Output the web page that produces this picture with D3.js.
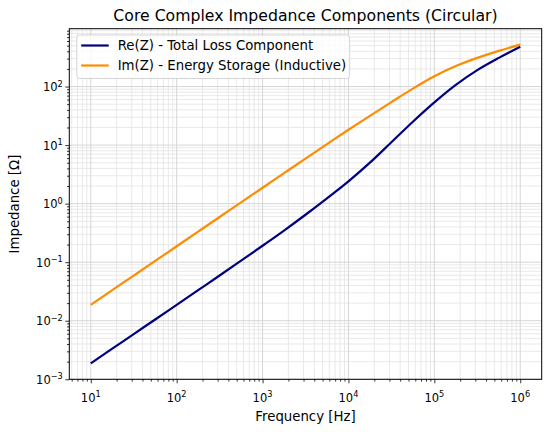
<!DOCTYPE html>
<html>
<head>
<meta charset="utf-8">
<script src="https://cdn.jsdelivr.net/npm/d3@7"></script>
<style>
  body { margin: 0; background: #fff; }
  svg { font-family: "DejaVu Sans", sans-serif; }
</style>
</head>
<body>
<svg id="chart"></svg>
<script>
const freqs = [10, 17.78, 31.62, 56.23, 100, 177.8, 316.2, 562.3, 1000, 1778, 3162, 5623, 10000, 17780, 31620, 56230, 100000, 177800, 316200, 562300, 1000000];
const reZ = [0.00187, 0.00333, 0.00592, 0.0105, 0.0187, 0.0333, 0.0592, 0.106, 0.191, 0.347, 0.646, 1.23, 2.40, 5.01, 11.2, 25.1, 53.7, 107, 191, 309, 480];
const imZ = [0.0187, 0.0333, 0.0591, 0.105, 0.187, 0.333, 0.592, 1.05, 1.87, 3.32, 5.89, 10.4, 18.3, 31.6, 54.3, 92.3, 150, 224, 309, 407, 520];
const seriesNames = ["Re(Z) - Total Loss Component", "Im(Z) - Energy Storage (Inductive)"];
const seriesColors = ["#000080", "#ff8c00"];
const xTickExps = [1, 2, 3, 4, 5, 6];
const yTickExps = [-3, -2, -1, 0, 1, 2];

const drawChart = (selector) => {
  const width = 549;
  const height = 432;
  const margin = { top: 28.7, right: 7.3, bottom: 52.7, left: 69.3 };

  const svg = d3.select(selector).attr("width", width).attr("height", height);

  // matplotlib style 5% margins in log space
  const pad = (lo, hi) => {
    const a = Math.log10(lo), b = Math.log10(hi), m = (b - a) * 0.05;
    return [Math.pow(10, a - m), Math.pow(10, b + m)];
  };
  const xScale = d3.scaleLog()
    .domain(pad(d3.min(freqs), d3.max(freqs)))
    .range([margin.left, width - margin.right]);
  const allY = reZ.concat(imZ);
  const yScale = d3.scaleLog()
    .domain(pad(d3.min(allY), d3.max(allY)))
    .range([height - margin.bottom, margin.top]);

  const minorOf = (scale) => {
    const [lo, hi] = scale.domain();
    const out = [];
    for (let e = Math.floor(Math.log10(lo)); e <= Math.ceil(Math.log10(hi)); e++) {
      for (let k = 2; k <= 9; k++) {
        const v = k * Math.pow(10, e);
        if (v >= lo && v <= hi) out.push(v);
      }
    }
    return out;
  };
  const xMajor = xTickExps.map((e) => Math.pow(10, e));
  const yMajor = yTickExps.map((e) => Math.pow(10, e));
  const xMinor = minorOf(xScale);
  const yMinor = minorOf(yScale);

  const top = margin.top, bottom = height - margin.bottom;
  const left = margin.left, right = width - margin.right;

  // grid
  const grid = svg.append("g").attr("class", "grid");
  grid.selectAll(".xminor").data(xMinor).enter().append("line")
    .attr("x1", (d) => xScale(d)).attr("x2", (d) => xScale(d))
    .attr("y1", top).attr("y2", bottom)
    .attr("stroke", "#e3e3e3").attr("stroke-width", 0.8);
  grid.selectAll(".yminor").data(yMinor).enter().append("line")
    .attr("y1", (d) => yScale(d)).attr("y2", (d) => yScale(d))
    .attr("x1", left).attr("x2", right)
    .attr("stroke", "#e3e3e3").attr("stroke-width", 0.8);
  grid.selectAll(".xmajor").data(xMajor).enter().append("line")
    .attr("x1", (d) => xScale(d)).attr("x2", (d) => xScale(d))
    .attr("y1", top).attr("y2", bottom)
    .attr("stroke", "#d6d6d6").attr("stroke-width", 1);
  grid.selectAll(".ymajor").data(yMajor).enter().append("line")
    .attr("y1", (d) => yScale(d)).attr("y2", (d) => yScale(d))
    .attr("x1", left).attr("x2", right)
    .attr("stroke", "#d6d6d6").attr("stroke-width", 1);

  // lines
  const line = d3.line()
    .x((d) => xScale(d[0]))
    .y((d) => yScale(d[1]))
    .curve(d3.curveCatmullRom);
  [reZ, imZ].forEach((vals, i) => {
    svg.append("path")
      .datum(freqs.map((f, j) => [f, vals[j]]))
      .attr("fill", "none")
      .attr("stroke", seriesColors[i])
      .attr("stroke-width", 2.2)
      .attr("d", line);
  });

  // axes
  const xAxis = svg.append("g").attr("transform", `translate(0, ${bottom})`);
  xAxis.call(d3.axisBottom(xScale).tickValues(xMajor).tickSize(4).tickFormat(() => ""));
  xAxis.append("g").call(d3.axisBottom(xScale).tickValues(xMinor).tickSize(2.3).tickFormat(() => ""));
  const yAxis = svg.append("g").attr("transform", `translate(${left}, 0)`);
  yAxis.call(d3.axisLeft(yScale).tickValues(yMajor).tickSize(4).tickFormat(() => ""));
  yAxis.append("g").call(d3.axisLeft(yScale).tickValues(yMinor).tickSize(2.3).tickFormat(() => ""));
  svg.selectAll(".domain").remove();
  svg.selectAll(".tick line").attr("stroke", "#000").attr("stroke-width", 0.8);

  const supLabel = (sel) => {
    sel.append("tspan").text("10");
    sel.append("tspan").attr("dy", -4.5).attr("font-size", 8.2).text((d) => String(d).replace("-", "\u2212"));
  };
  svg.append("g").selectAll("text").data(xTickExps).enter().append("text")
    .attr("x", (d) => xScale(Math.pow(10, d)))
    .attr("y", bottom + 22.5)
    .attr("text-anchor", "middle")
    .attr("font-size", 11.5)
    .attr("fill", "#000")
    .call(supLabel);
  svg.append("g").selectAll("text").data(yTickExps).enter().append("text")
    .attr("x", left - 6.5)
    .attr("y", (d) => yScale(Math.pow(10, d)) + 4.5)
    .attr("text-anchor", "end")
    .attr("font-size", 11.5)
    .attr("fill", "#000")
    .call(supLabel);

  // frame
  svg.append("rect")
    .attr("x", left).attr("y", top)
    .attr("width", right - left).attr("height", bottom - top)
    .attr("fill", "none").attr("stroke", "#000").attr("stroke-width", 1);

  // labels
  svg.append("text")
    .attr("x", (left + right) / 2).attr("y", 20.5)
    .attr("text-anchor", "middle").attr("font-size", 15.7)
    .text("Core Complex Impedance Components (Circular)");
  svg.append("text")
    .attr("x", (left + right) / 2).attr("y", 421)
    .attr("text-anchor", "middle").attr("font-size", 13.3)
    .text("Frequency [Hz]");
  svg.append("text")
    .attr("transform", `translate(19, ${(top + bottom) / 2}) rotate(-90)`)
    .attr("text-anchor", "middle").attr("font-size", 13.3)
    .text("Impedance [Ω]");

  // legend
  const legend = svg.append("g").attr("transform", `translate(${left + 7.4}, ${top + 6.3})`);
  legend.append("rect")
    .attr("width", 273).attr("height", 43.5).attr("rx", 3)
    .attr("fill", "#fff").attr("fill-opacity", 0.8)
    .attr("stroke", "#cccccc").attr("stroke-width", 0.8);
  seriesNames.forEach((name, i) => {
    const y = 10.5 + i * 20;
    legend.append("line")
      .attr("x1", 4.5).attr("x2", 32).attr("y1", y).attr("y2", y)
      .attr("stroke", seriesColors[i]).attr("stroke-width", 2.2);
    legend.append("text")
      .attr("x", 41).attr("y", y + 4.8)
      .attr("font-size", 13.3).text(name);
  });
};

drawChart("#chart");
</script>
</body>
</html>
